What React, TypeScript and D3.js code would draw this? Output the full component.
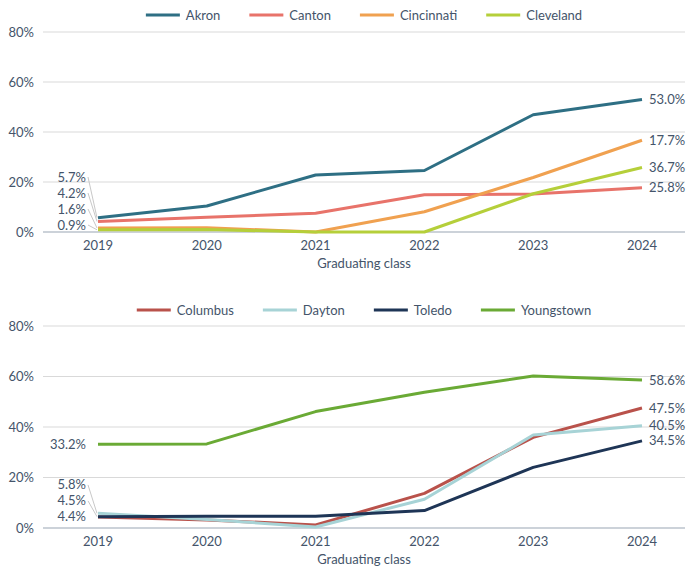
import React, { useEffect, useRef } from "react";
import * as d3 from "d3";

// Graduating classes and axis ticks
const years = ["2019", "2020", "2021", "2022", "2023", "2024"];
const yTicks = [0, 20, 40, 60, 80];

// Top panel
const topNames = ["Akron", "Canton", "Cincinnati", "Cleveland"];
const topColors = ["#2e6f84", "#e8736a", "#f0a150", "#b5cf3a"];
const akron = [5.7, 10.4, 22.8, 24.6, 46.9, 53.0];
const canton = [4.2, 5.9, 7.5, 14.9, 15.2, 17.7];
const cincinnati = [1.6, 1.7, 0.0, 8.1, 21.8, 36.7];
const cleveland = [0.9, 1.0, 0.0, 0.0, 15.3, 25.8];
const topStartLabels = ["5.7%", "4.2%", "1.6%", "0.9%"];
const topEndLabels = ["53.0%", "25.8%", "17.7%", "36.7%"];

// Bottom panel
const bottomNames = ["Columbus", "Dayton", "Toledo", "Youngstown"];
const bottomColors = ["#b9524b", "#a7d3d6", "#1e3556", "#6aaa35"];
const columbus = [4.4, 3.2, 1.2, 13.7, 35.9, 47.5];
const dayton = [5.8, 3.4, 0.4, 11.4, 36.8, 40.5];
const toledo = [4.5, 4.7, 4.7, 6.9, 24.0, 34.5];
const youngstown = [33.2, 33.3, 46.1, 53.8, 60.2, 58.6];
const bottomStartLabels = ["4.4%", "5.8%", "4.5%", "33.2%"];
const bottomEndLabels = ["47.5%", "40.5%", "34.5%", "58.6%"];

const textColor = "#44546a";
const font = "Lato, 'Noto Sans', sans-serif";

interface Panel {
  names: string[];
  colors: string[];
  values: number[][];
  startLabels: string[];
  endLabels: string[];
  y0: number; // pixel of 0%
  y80: number; // pixel of 80%
  legendY: number;
}

const panels: Panel[] = [
  {
    names: topNames,
    colors: topColors,
    values: [akron, canton, cincinnati, cleveland],
    startLabels: topStartLabels,
    endLabels: topEndLabels,
    y0: 232,
    y80: 32,
    legendY: 15,
  },
  {
    names: bottomNames,
    colors: bottomColors,
    values: [columbus, dayton, toledo, youngstown],
    startLabels: bottomStartLabels,
    endLabels: bottomEndLabels,
    y0: 528,
    y80: 326,
    legendY: 310,
  },
];

const plotLeft = 43;
const plotRight = 685;

function drawPanel(svg: d3.Selection<SVGSVGElement, unknown, null, undefined>, p: Panel) {
  const x = d3.scalePoint<string>().domain(years).range([98, 642]);
  const y = d3.scaleLinear().domain([0, 80]).range([p.y0, p.y80]);
  const g = svg.append("g").style("font-family", font);

  // gridlines
  g.selectAll("line.grid")
    .data(yTicks.filter(t => t > 0))
    .join("line")
    .attr("x1", plotLeft)
    .attr("x2", plotRight)
    .attr("y1", d => y(d))
    .attr("y2", d => y(d))
    .attr("stroke", "#d9d9d9")
    .attr("stroke-width", 1);

  g.append("line")
    .attr("x1", plotLeft)
    .attr("x2", plotRight)
    .attr("y1", y(0))
    .attr("y2", y(0))
    .attr("stroke", "#9aa5b4")
    .attr("stroke-width", 1.2);

  // y tick labels
  g.selectAll("text.ytick")
    .data(yTicks)
    .join("text")
    .attr("x", 34)
    .attr("y", d => y(d))
    .attr("dy", "0.35em")
    .attr("text-anchor", "end")
    .attr("font-size", 13)
    .attr("fill", textColor)
    .text(d => `${d}%`);

  // x tick labels
  g.selectAll("text.xtick")
    .data(years)
    .join("text")
    .attr("x", d => x(d)!)
    .attr("y", p.y0 + 13)
    .attr("dy", "0.35em")
    .attr("text-anchor", "middle")
    .attr("font-size", 13)
    .attr("fill", textColor)
    .text(d => d);

  g.append("text")
    .attr("x", (plotLeft + plotRight) / 2)
    .attr("y", p.y0 + 31)
    .attr("dy", "0.35em")
    .attr("text-anchor", "middle")
    .attr("font-size", 13)
    .attr("fill", textColor)
    .text("Graduating class");

  // lines
  const line = d3.line<number>()
    .x((_, i) => x(years[i])!)
    .y(d => y(d));

  p.values.forEach((vals, i) => {
    g.append("path")
      .attr("d", line(vals))
      .attr("fill", "none")
      .attr("stroke", p.colors[i])
      .attr("stroke-width", 3)
      .attr("stroke-linejoin", "round");
  });

  // start labels, stacked upward from the lowest
  const x0 = x(years[0])!;
  const order = d3.range(p.values.length).sort((a, b) => p.values[a][0] - p.values[b][0]);
  let prev = Infinity;
  order.forEach((i, k) => {
    const py = y(p.values[i][0]);
    let ly = k === 0 ? Math.min(py, y(0) - 7) : Math.min(py, prev - 16);
    prev = ly;
    if (Math.abs(ly - py) > 4) {
      g.append("line")
        .attr("x1", x0 - 10)
        .attr("y1", ly)
        .attr("x2", x0 - 1)
        .attr("y2", py)
        .attr("stroke", "#c8c8c8")
        .attr("stroke-width", 1);
    }
    g.append("text")
      .attr("x", x0 - 12)
      .attr("y", ly)
      .attr("dy", "0.35em")
      .attr("text-anchor", "end")
      .attr("font-size", 13)
      .attr("fill", textColor)
      .text(p.startLabels[i]);
  });

  // end labels, spread apart downward from the top
  const xe = x(years[years.length - 1])!;
  const last = years.length - 1;
  const endOrder = d3.range(p.values.length).sort((a, b) => p.values[b][last] - p.values[a][last]);
  let prevE = -Infinity;
  endOrder.forEach(i => {
    const py = y(p.values[i][last]);
    const ly = Math.max(py, prevE + 15);
    prevE = ly;
    g.append("text")
      .attr("x", xe + 7)
      .attr("y", ly)
      .attr("dy", "0.35em")
      .attr("font-size", 13)
      .attr("fill", textColor)
      .text(p.endLabels[i]);
  });

  // legend, centred over the plot
  const lg = g.append("g");
  let cursor = 0;
  p.names.forEach((name, i) => {
    const item = lg.append("g").attr("transform", `translate(${cursor},0)`);
    item.append("line")
      .attr("x1", 0)
      .attr("x2", 34)
      .attr("y1", p.legendY)
      .attr("y2", p.legendY)
      .attr("stroke", p.colors[i])
      .attr("stroke-width", 3);
    const t = item.append("text")
      .attr("x", 40)
      .attr("y", p.legendY)
      .attr("dy", "0.35em")
      .attr("font-size", 13)
      .attr("fill", textColor)
      .text(name);
    const w = (t.node() as SVGTextElement).getComputedTextLength();
    cursor += 40 + w + 29;
  });
  const total = cursor - 29;
  lg.attr("transform", `translate(${(plotLeft + plotRight) / 2 - total / 2},0)`);
}

const App: React.FC = () => {
  const ref = useRef<SVGSVGElement | null>(null);

  useEffect(() => {
    if (!ref.current) return;
    const svg = d3.select(ref.current);
    svg.selectAll("*").remove();
    panels.forEach(p => drawPanel(svg, p));
  }, []);

  return (
    <svg
      ref={ref}
      width={700}
      height={577}
      style={{ position: "absolute", left: 0, top: 0, background: "#fff" }}
    />
  );
};

export default App;
